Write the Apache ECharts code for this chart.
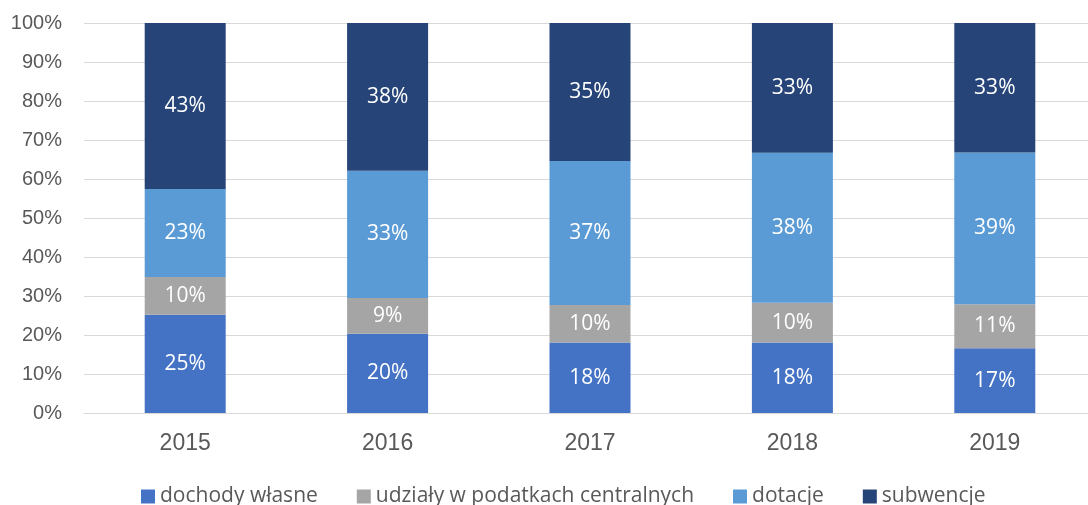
<!DOCTYPE html>
<html>
<head>
<meta charset="utf-8">
<script src="https://cdn.jsdelivr.net/npm/echarts@6/dist/echarts.min.js"></script>
<style>
  html, body { margin: 0; padding: 0; background: #fff; overflow: hidden; }
  #chart { width: 1100px; height: 505px; }
</style>
</head>
<body>
<div id="chart"></div>
<script>
// dane (udział w %)
var lata = ['2015', '2016', '2017', '2018', '2019'];
var dochodyWlasne = [25.2, 20.3, 18.1, 18.1, 16.6];
var udzialy = [9.7, 9.2, 9.6, 10.2, 11.3];
var dotacje = [22.55, 32.6, 36.9, 38.4, 38.9];
var subwencje = [42.55, 37.9, 35.4, 33.3, 33.2];
var yTicks = [0, 10, 20, 30, 40, 50, 60, 70, 80, 90, 100];

var labelStyle = {
    show: true,
    position: 'inside',
    color: '#ffffff',
    fontFamily: 'Open Sans',
    fontSize: 21,
    formatter: function(p) { return Math.round(p.value) + '%' }
};

function seria(nazwa, dane, kolor) {
    return {
        name: nazwa,
        type: 'bar',
        stack: 'total',
        barWidth: 81,
        data: dane,
        itemStyle: { color: kolor },
        label: labelStyle
    };
}

// wykres jest nieco szerszy niż okno - prawy brzeg siatki wychodzi poza kadr
var myChart = echarts.init(document.getElementById('chart'));
myChart.setOption({
    animation: false,
    textStyle: { fontFamily: 'Liberation Sans' },
    grid: { left: 84, width: 1012, top: 23, height: 390, containLabel: false },
    legend: {
        left: 141,
        top: 486,
        padding: 0,
        itemWidth: 14,
        itemHeight: 14,
        itemGap: 39,
        icon: 'rect',
        textStyle: { color: '#595959', fontFamily: 'Open Sans', fontSize: 21 },
        data: ['dochody własne', 'udziały w podatkach centralnych', 'dotacje', 'subwencje']
    },
    xAxis: {
        type: 'category',
        data: lata,
        axisLine: { lineStyle: { color: '#d9d9d9', width: 1 } },
        axisTick: { show: false },
        axisLabel: { color: '#595959', fontSize: 23, margin: 19, fontFamily: 'Liberation Sans' }
    },
    yAxis: {
        type: 'value',
        min: yTicks[0],
        max: yTicks[yTicks.length - 1],
        interval: 10,
        axisLine: { show: false },
        axisTick: { show: false },
        splitLine: { lineStyle: { color: '#d9d9d9', width: 1 } },
        axisLabel: {
            color: '#595959', fontSize: 20, margin: 22, fontFamily: 'Liberation Sans',
            formatter: '{value}%'
        }
    },
    series: [
        seria('dochody własne', dochodyWlasne, '#4472C4'),
        seria('udziały w podatkach centralnych', udzialy, '#A5A5A5'),
        seria('dotacje', dotacje, '#5B9BD5'),
        seria('subwencje', subwencje, '#264478')
    ]
});
</script>
</body>
</html>
